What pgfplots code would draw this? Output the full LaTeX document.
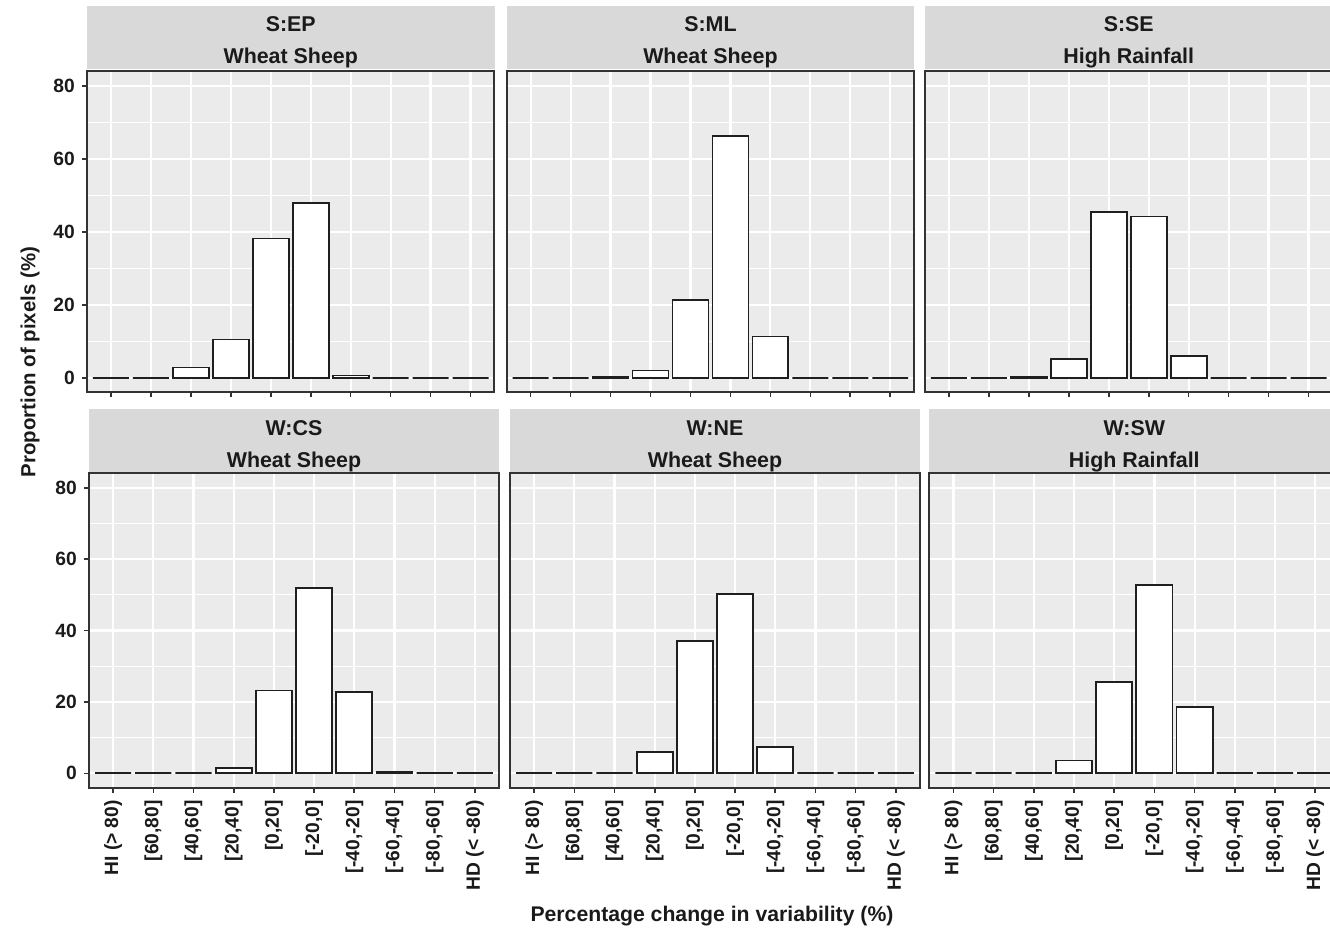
\documentclass[border=0pt]{standalone}
\usepackage{fontspec}
\setmainfont{Liberation Sans}
\usepackage{pgfplots}
\pgfplotsset{compat=1.18}
\definecolor{panelbg}{HTML}{EBEBEB}
\definecolor{stripbg}{HTML}{D9D9D9}
\definecolor{framecol}{HTML}{333333}
\definecolor{textcol}{HTML}{1A1A1A}
\definecolor{barcol}{HTML}{1F1F1F}
\newcommand{\sstrut}{\rule{0pt}{12.7pt}}
\pgfplotsset{
  every axis title shift=0pt,
  facet/.style={
    scale only axis,
    xmin=0.4, xmax=10.6,
    axis background/.style={fill=panelbg},
    axis line style={draw=framecol, line width=1pt},
    xtick={1,...,10},
    ytick={0,20,40,60,80},
    minor ytick={10,30,50,70},
    grid=both,
    major grid style={white, line width=1.1pt},
    minor grid style={white, line width=0.55pt},
    tick align=outside,
    major tick length=2.6pt,
    minor tick length=0pt,
    tick style={draw=framecol, line width=0.8pt},
    xtick pos=left, ytick pos=left,
    ybar, bar width=0.9,
    /pgf/number format/assume math mode=true,
    ticklabel style={font=\bfseries\fontsize{9.6}{11}\selectfont, text=textcol},
    title style={at={(rel axis cs:0.5,1)}, anchor=south, yshift=0.5pt, fill=stripbg, inner sep=0pt,
      align=center, font=\bfseries\fontsize{10.7}{16}\selectfont, text=textcol},
  },
  toprow/.style={width=203.75pt, height=160.65pt, ymin=-3.9, ymax=84.2, xticklabels={},
    title style={minimum width=203.75pt, minimum height=31.85pt}},
  botrow/.style={width=205pt, height=157.25pt, ymin=-4.1, ymax=84.0,
    title style={minimum width=205pt, minimum height=31.5pt},
    xticklabels={{HI (> 80)},{[60,80]},{[40,60]},{[20,40]},{[0,20]},{[-20,0]},{[-40,-20]},{[-60,-40]},{[-80,-60]},{HD (< -80)}},
    xticklabel style={rotate=90, anchor=east}},
  inner/.style={yticklabels={}, ytick style={draw=none}},
  bars/.style={fill=white, draw=barcol, line width=0.9pt},
}
\begin{document}
\begin{tikzpicture}
\useasboundingbox (0,0) rectangle (665pt,466.5pt);
% top row
\begin{axis}[facet, toprow, at={(43.5pt,270.5pt)}, anchor=south west, title={\sstrut S:EP\\Wheat Sheep}]
\addplot[bars] coordinates {(1,0) (2,0) (3,2.8) (4,10.5) (5,38.2) (6,48.0) (7,0.6) (8,0) (9,0) (10,0)};
\end{axis}
\begin{axis}[facet, toprow, inner, at={(253.35pt,270.5pt)}, anchor=south west, title={\sstrut S:ML\\Wheat Sheep}]
\addplot[bars] coordinates {(1,0) (2,0) (3,0.3) (4,2.0) (5,21.3) (6,66.4) (7,11.3) (8,0) (9,0) (10,0)};
\end{axis}
\begin{axis}[facet, toprow, inner, at={(462.5pt,270.5pt)}, anchor=south west, title={\sstrut S:SE\\High Rainfall}]
\addplot[bars] coordinates {(1,0) (2,0) (3,0.3) (4,5.2) (5,45.4) (6,44.2) (7,5.9) (8,0) (9,0) (10,0)};
\end{axis}
% bottom row
\begin{axis}[facet, botrow, at={(44.5pt,72.5pt)}, anchor=south west, title={\sstrut W:CS\\Wheat Sheep}]
\addplot[bars] coordinates {(1,0) (2,0) (3,0) (4,1.5) (5,23.2) (6,51.9) (7,22.8) (8,0.3) (9,0) (10,0)};
\end{axis}
\begin{axis}[facet, botrow, inner, at={(255pt,72.5pt)}, anchor=south west, title={\sstrut W:NE\\Wheat Sheep}]
\addplot[bars] coordinates {(1,0) (2,0) (3,0) (4,5.9) (5,37.1) (6,50.3) (7,7.3) (8,0) (9,0) (10,0)};
\end{axis}
\begin{axis}[facet, botrow, inner, at={(464.65pt,72.5pt)}, anchor=south west, title={\sstrut W:SW\\High Rainfall}]
\addplot[bars] coordinates {(1,0) (2,0) (3,0) (4,3.6) (5,25.5) (6,52.8) (7,18.6) (8,0) (9,0) (10,0)};
\end{axis}
\node[rotate=90, font=\bfseries\fontsize{10.2}{12}\selectfont, text=textcol] at (15pt,285.5pt) {Proportion of pixels (\%)};
\node[font=\bfseries\fontsize{10.6}{12}\selectfont, text=textcol] at (356pt,8.5pt) {Percentage change in variability (\%)};
\end{tikzpicture}
\end{document}
